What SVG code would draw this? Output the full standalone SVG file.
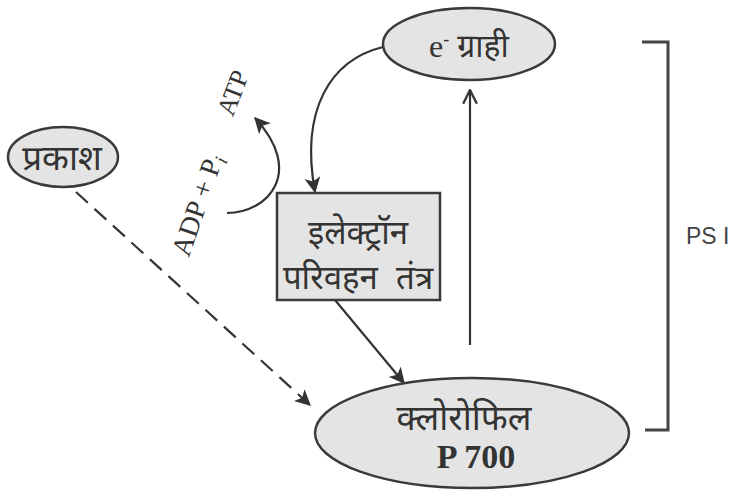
<svg xmlns="http://www.w3.org/2000/svg" width="749" height="494" viewBox="0 0 749 494">
<style>
.node{fill:#e4e4e4;stroke:#3a3a3a;stroke-width:2.5}
.t{font-family:"Liberation Serif","Noto Sans",serif;fill:#333;text-anchor:middle}
.c{fill:none;stroke:#333;stroke-width:2.2}
</style>
<defs>
<marker id="fb" viewBox="0 0 12 12" refX="11" refY="6" markerWidth="16" markerHeight="16" markerUnits="userSpaceOnUse" orient="auto">
<path d="M0,0 L12,6 L0,12 L3,6 Z" fill="#333"/>
</marker>
<marker id="op" viewBox="0 0 14 14" refX="13" refY="7" markerWidth="16" markerHeight="16" markerUnits="userSpaceOnUse" orient="auto">
<path d="M1,1 L13,7 L1,13" fill="none" stroke="#333" stroke-width="2"/>
</marker>
</defs>
<rect width="749" height="494" fill="#fff"/>
<g id="connectors">
<path class="c" d="M383 47 C330 60 300 110 315 192" marker-end="url(#fb)"/>
<path class="c" d="M227 213 C268 213 305 172 255 118" marker-end="url(#fb)"/>
<path class="c" d="M470 345 L470 90" marker-end="url(#op)"/>
<path class="c" d="M335 300 L404 383" marker-end="url(#fb)"/>
<path class="c" d="M76 192 L310 405" stroke-dasharray="16,9" marker-end="url(#fb)"/>
</g>
<g id="e-acceptor">
<ellipse class="node" cx="469" cy="44" rx="86" ry="36"/>
<text class="t" x="469" y="57" font-size="32">e<tspan font-size="18" dy="-12">-</tspan><tspan dy="12"> ग्राही</tspan></text>
</g>
<g id="light">
<ellipse class="node" cx="63" cy="157" rx="55" ry="30"/>
<text class="t" x="62" y="170" font-size="35">प्रकाश</text>
</g>
<g id="etc">
<rect class="node" x="277" y="193" width="163" height="107"/>
<text class="t" x="358" y="244" font-size="33">इलेक्ट्रॉन</text>
<text class="t" x="358" y="289" font-size="33" word-spacing="10">परिवहन तंत्र</text>
</g>
<g id="chlorophyll">
<ellipse class="node" cx="472" cy="433" rx="157" ry="55"/>
<text class="t" x="464" y="430" font-size="35">क्लोरोफिल</text>
<text class="t" x="476" y="468" font-size="34" font-weight="bold">P 700</text>
</g>
<g id="labels">
<text class="t" font-size="28" transform="translate(206 208) rotate(-71)">ADP + P<tspan font-size="19" dy="5" font-style="italic">i</tspan></text>
<text class="t" font-size="26" transform="translate(241 96) rotate(-69)">ATP</text>
</g>
<g id="bracket">
<path d="M642 42 L668 42 L668 430 L645 430" fill="none" stroke="#444" stroke-width="3"/>
<text x="686" y="244" font-size="23" font-family="Liberation Sans,sans-serif" fill="#444">PS I</text>
</g>
</svg>
